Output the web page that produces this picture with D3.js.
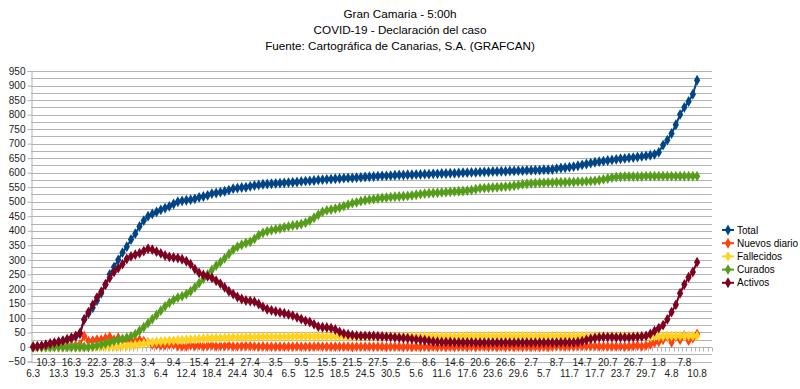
<!DOCTYPE html>
<html>
<head>
<meta charset="utf-8">
<script src="https://cdn.jsdelivr.net/npm/d3@7"></script>
<style>
  body { margin: 0; background: #fff; }
  svg { font-family: "Liberation Sans", Arial, sans-serif; }
</style>
</head>
<body>
<div id="chart"></div>
<script>
// categories (day.month), last three have no data
const categories = [
  '6.3', '8.3', '9.3', '10.3', '11.3', '12.3', '13.3', '14.3', '15.3', '16.3', '17.3', '18.3', '19.3', '20.3',
  '21.3', '22.3', '23.3', '24.3', '25.3', '26.3', '27.3', '28.3', '29.3', '30.3', '31.3',
  '1.4', '2.4', '3.4', '4.4', '5.4', '6.4', '7.4', '8.4', '9.4', '10.4', '11.4', '12.4', '13.4', '14.4', '15.4',
  '16.4', '17.4', '18.4', '19.4', '20.4', '21.4', '22.4', '23.4', '24.4', '25.4', '26.4', '27.4', '28.4', '29.4', '30.4',
  '1.5', '2.5', '3.5', '4.5', '5.5', '6.5', '7.5', '8.5', '9.5', '10.5', '11.5', '12.5', '13.5', '14.5', '15.5',
  '16.5', '17.5', '18.5', '19.5', '20.5', '21.5', '22.5', '23.5', '24.5', '25.5', '26.5', '27.5', '28.5', '29.5', '30.5', '31.5',
  '1.6', '2.6', '3.6', '4.6', '5.6', '6.6', '7.6', '8.6', '9.6', '10.6', '11.6', '12.6', '13.6', '14.6', '15.6',
  '16.6', '17.6', '18.6', '19.6', '20.6', '21.6', '22.6', '23.6', '24.6', '25.6', '26.6', '27.6', '28.6', '29.6', '30.6',
  '1.7', '2.7', '3.7', '4.7', '5.7', '6.7', '7.7', '8.7', '9.7', '10.7', '11.7', '12.7', '13.7', '14.7', '15.7',
  '16.7', '17.7', '18.7', '19.7', '20.7', '21.7', '22.7', '23.7', '24.7', '25.7', '26.7', '27.7', '28.7', '29.7', '30.7', '31.7',
  '1.8', '2.8', '3.8', '4.8', '5.8', '6.8', '7.8', '8.8', '9.8', '10.8', '11.8', '12.8', '13.8'
];

const total = [
  1, 2, 3, 6, 9, 12, 16, 20, 24, 30, 36, 45, 95, 115, 135, 160, 185, 215, 250, 275,
  300, 325, 345, 370, 390, 415, 435, 450, 458, 465, 472, 478, 484, 492, 500, 503, 505, 507, 510, 515,
  518, 522, 528, 530, 533, 536, 540, 545, 547, 549, 550, 553, 556, 558, 560, 561, 562, 563, 564, 565,
  566, 567, 568, 570, 571, 572, 573, 575, 576, 577, 578, 579, 580, 581, 582, 582, 583, 584, 585, 586,
  587, 588, 589, 589, 590, 591, 592, 592, 593, 593, 594, 594, 595, 595, 596, 596, 597, 597, 598, 598,
  599, 600, 600, 601, 601, 602, 603, 603, 604, 604, 605, 605, 606, 606, 607, 607, 608, 608, 609, 609,
  610, 610, 611, 614, 616, 617, 619, 621, 624, 627, 630, 633, 636, 638, 640, 642, 644, 646, 648, 649,
  651, 652, 654, 656, 658, 660, 663, 670, 695, 712, 735, 765, 800, 825, 845, 870, 918
];

const nuevos = [
  1, 1, 1, 3, 3, 3, 4, 4, 4, 6, 6, 9, 38, 20, 22, 25, 25, 30, 35, 25,
  32, 22, 25, 23, 20, 25, 20, 15, 8, 7, 6, 6, 8, 8, 3, 2, 2, 6, 3, 6,
  2, 4, 6, 2, 3, 3, 5, 2, 2, 3, 3, 3, 2, 1, 2, 1, 1, 1, 1, 1,
  1, 1, 2, 1, 1, 1, 1, 2, 1, 1, 1, 1, 1, 1, 1, 0, 1, 1, 1, 1,
  1, 1, 1, 0, 1, 1, 1, 0, 1, 0, 1, 0, 1, 0, 1, 0, 1, 0, 1, 0,
  1, 1, 0, 1, 0, 1, 1, 0, 1, 0, 1, 0, 1, 0, 1, 0, 1, 0, 1, 0,
  1, 0, 1, 3, 2, 1, 2, 2, 3, 3, 3, 3, 3, 2, 2, 2, 2, 2, 2, 1,
  2, 3, 5, 2, 5, 8, 15, 18, 25, 35, 15, 35, 25, 40, 22, 30, 45
];

const fallecidos = [
  0, 0, 0, 0, 0, 0, 0, 0, 0, 0, 0, 0, 0, 0, 0, 1, 1, 1, 1, 1,
  2, 3, 4, 5, 7, 9, 11, 14, 16, 18, 19, 20, 21, 22, 23, 24, 25, 26, 27, 28,
  29, 30, 30, 31, 31, 32, 32, 33, 33, 33, 34, 34, 34, 35, 35, 35, 35, 35, 35, 35,
  35, 36, 36, 36, 36, 36, 36, 36, 36, 36, 36, 36, 36, 36, 36, 36, 36, 36, 36, 36,
  36, 36, 36, 36, 36, 36, 36, 36, 36, 36, 36, 36, 36, 36, 36, 36, 36, 36, 36, 36,
  36, 37, 37, 37, 37, 37, 37, 37, 37, 37, 37, 37, 37, 37, 37, 37, 37, 37, 37, 37,
  37, 37, 37, 37, 37, 37, 37, 37, 37, 37, 37, 37, 37, 37, 37, 37, 37, 37, 37, 37,
  37, 37, 37, 37, 37, 37, 37, 37, 37, 38, 38, 38, 38, 38, 38, 38, 38
];

const curados = [
  0, 0, 0, 0, 0, 0, 0, 0, 0, 0, 0, 0, 0, 0, 2, 5, 8, 12, 16, 20,
  24, 28, 32, 36, 44, 56, 68, 82, 96, 110, 125, 140, 152, 162, 170, 175, 182, 192, 205, 220,
  235, 250, 265, 280, 292, 305, 320, 335, 345, 352, 358, 362, 372, 385, 393, 398, 402, 405, 408, 412,
  415, 418, 420, 423, 428, 435, 445, 455, 465, 470, 473, 476, 480, 485, 490, 495, 498, 502, 505, 507,
  509, 511, 513, 514, 516, 517, 518, 519, 520, 522, 524, 526, 528, 529, 530, 531, 532, 533, 534, 535,
  536, 537, 538, 540, 543, 546, 547, 548, 549, 550, 551, 552, 553, 555, 557, 560, 562, 563, 564, 565,
  565, 566, 566, 567, 567, 567, 568, 568, 569, 569, 570, 571, 572, 574, 577, 580, 583, 585, 586, 587,
  587, 587, 587, 587, 588, 588, 588, 588, 588, 588, 588, 588, 588, 588, 588, 588, 588
];

const activos = [
  0, 2, 4, 8, 12, 15, 18, 22, 27, 32, 38, 48, 95, 120, 145, 170, 190, 215, 238, 258,
  272, 285, 303, 312, 318, 323, 330, 338, 335, 328, 322, 315, 310, 308, 306, 302, 295, 285, 268, 255,
  248, 243, 238, 228, 218, 205, 192, 182, 172, 165, 160, 158, 156, 148, 138, 130, 126, 122, 119, 116,
  112, 108, 102, 96, 90, 86, 78, 70, 68, 67, 65, 60, 52, 46, 43, 41, 39, 38, 38, 38,
  38, 37, 36, 35, 34, 33, 32, 31, 30, 28, 26, 25, 23, 21, 19, 18, 17, 17, 17, 16,
  16, 16, 16, 16, 15, 15, 15, 15, 15, 15, 15, 15, 15, 15, 15, 15, 15, 15, 15, 15,
  15, 15, 15, 15, 16, 16, 16, 16, 17, 20, 24, 28, 31, 33, 34, 34, 34, 33, 33, 33,
  33, 34, 35, 36, 38, 45, 55, 65, 75, 95, 120, 145, 185, 215, 240, 258, 292
];

const seriesNames = ['Total', 'Nuevos diario', 'Fallecidos', 'Curados', 'Activos'];
const seriesColors = ['#004586', '#ff420e', '#ffd320', '#579d1c', '#7e0021'];
const seriesValues = [total, nuevos, fallecidos, curados, activos];

const titleLines = [
  'Gran Camaria - 5:00h',
  'COVID-19 - Declaración del caso',
  'Fuente: Cartográfica de Canarias, S.A. (GRAFCAN)'
];

const width = 800;
const height = 389;
const plot = { left: 31, right: 712, top: 71, bottom: 361.5 };

const svg = d3.select('#chart')
  .append('svg')
  .attr('width', width)
  .attr('height', height);

// title
svg.append('g')
  .selectAll('text')
  .data(titleLines)
  .enter()
  .append('text')
  .attr('x', 400)
  .attr('y', (d, i) => 18 + i * 16)
  .attr('text-anchor', 'middle')
  .attr('font-size', 11.7)
  .attr('fill', '#000')
  .text(d => d);

const x = d3.scaleBand()
  .domain(categories)
  .range([plot.left, plot.right])
  .padding(0);

const y = d3.scaleLinear()
  .domain([-50, 950])
  .range([plot.bottom, plot.top]);

const cx = c => x(c) + x.bandwidth() / 2;

// horizontal grid every 25
const gridVals = d3.range(-50, 951, 25);
svg.append('g')
  .selectAll('line')
  .data(gridVals)
  .enter()
  .append('line')
  .attr('x1', plot.left)
  .attr('x2', plot.right)
  .attr('y1', d => Math.round(y(d)) + 0.5)
  .attr('y2', d => Math.round(y(d)) + 0.5)
  .attr('stroke', '#b3b3b3')
  .attr('stroke-width', 1);

// y axis
const yAxis = d3.axisLeft(y)
  .tickValues(d3.range(-50, 951, 50))
  .tickSize(4)
  .tickPadding(2);

const yG = svg.append('g')
  .attr('transform', `translate(${plot.left + 0.5},0)`)
  .call(yAxis);
yG.select('.domain').attr('stroke', '#b3b3b3');
yG.selectAll('.tick line').attr('stroke', '#b3b3b3');
yG.selectAll('text')
  .attr('font-size', 10)
  .attr('font-family', '"Liberation Sans", Arial, sans-serif')
  .attr('fill', '#222');

// x axis crossing at value 0
const y0 = Math.round(y(0)) + 0.5;
svg.append('line')
  .attr('x1', plot.left)
  .attr('x2', plot.right)
  .attr('y1', y0)
  .attr('y2', y0)
  .attr('stroke', '#b3b3b3');

svg.append('g')
  .selectAll('line')
  .data(categories.concat(['__end']))
  .enter()
  .append('line')
  .attr('x1', (d, i) => Math.round(i < categories.length ? x(d) : plot.right) + 0.5)
  .attr('x2', (d, i) => Math.round(i < categories.length ? x(d) : plot.right) + 0.5)
  .attr('y1', y0)
  .attr('y2', y0 + 4)
  .attr('stroke', '#b3b3b3');

const labelCats = categories.filter((c, i) => i % 3 === 0 && i < total.length);
svg.append('g')
  .selectAll('text')
  .data(labelCats)
  .enter()
  .append('text')
  .attr('x', d => cx(d))
  .attr('y', (d, i) => (i % 2 === 0 ? 377 : 365.5))
  .attr('text-anchor', 'middle')
  .attr('font-size', 10)
  .attr('fill', '#222')
  .text(d => d);

// series lines + markers
const diamond = d3.symbol().type(d3.symbolDiamond).size(34);

seriesValues.forEach((vals, s) => {
  const pts = vals.map((v, i) => [cx(categories[i]), y(v)]);
  const g = svg.append('g');
  g.append('path')
    .attr('d', d3.line()(pts))
    .attr('fill', 'none')
    .attr('stroke', seriesColors[s])
    .attr('stroke-width', 2);
  g.selectAll('path.m')
    .data(pts)
    .enter()
    .append('path')
    .attr('class', 'm')
    .attr('d', diamond)
    .attr('transform', d => `translate(${d[0]},${d[1]})`)
    .attr('fill', seriesColors[s]);
});

// legend
const legend = svg.append('g').attr('transform', 'translate(722,230)');
const item = legend.selectAll('g')
  .data(seriesNames)
  .enter()
  .append('g')
  .attr('transform', (d, i) => `translate(0,${i * 13.2})`);
item.append('line')
  .attr('x1', 0).attr('x2', 12)
  .attr('y1', 0).attr('y2', 0)
  .attr('stroke', (d, i) => seriesColors[i])
  .attr('stroke-width', 2);
item.append('path')
  .attr('d', diamond)
  .attr('transform', 'translate(6,0)')
  .attr('fill', (d, i) => seriesColors[i]);
item.append('text')
  .attr('x', 15)
  .attr('y', 3.5)
  .attr('font-size', 10)
  .attr('fill', '#000')
  .text(d => d);
</script>
</body>
</html>
